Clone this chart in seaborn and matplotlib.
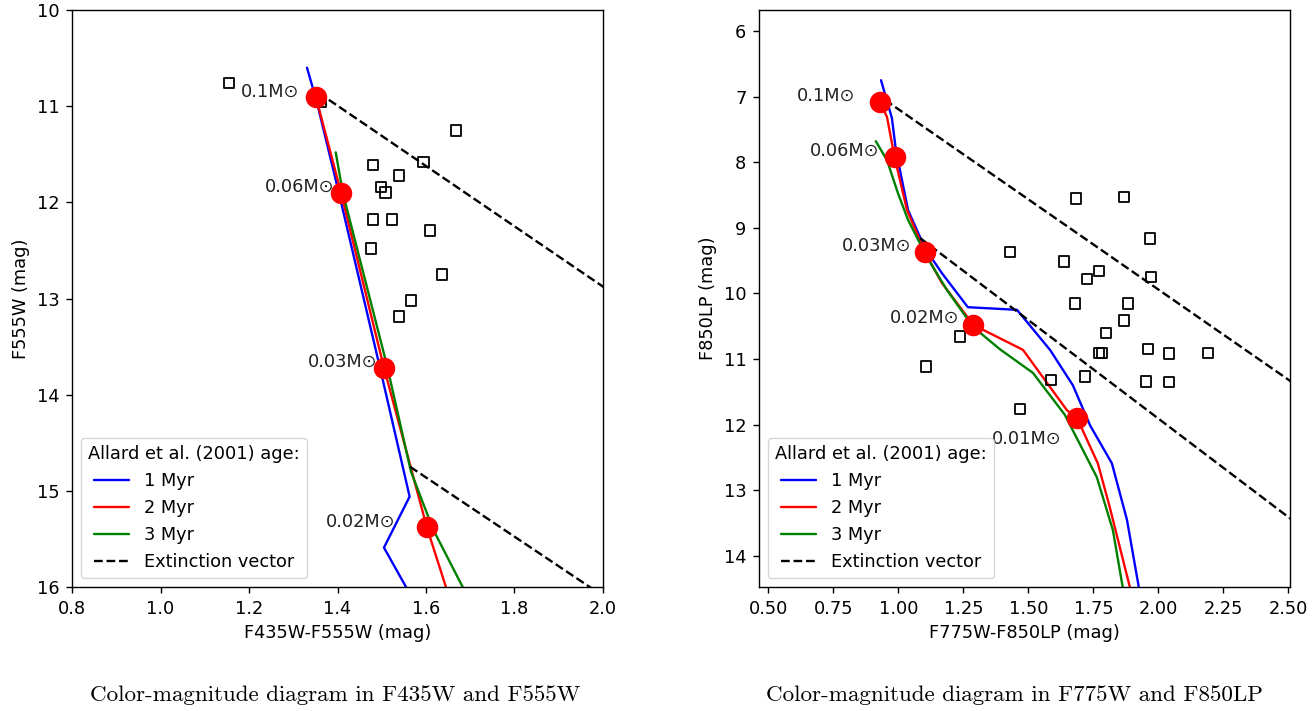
import matplotlib
matplotlib.use("Agg")
import matplotlib.pyplot as plt
import seaborn as sns

# ---------------- F435W / F555W panel ----------------
b_iso1_color = [1.331, 1.353, 1.403, 1.496, 1.563, 1.505, 1.567]
b_iso1_mag = [10.60, 10.95, 11.90, 13.72, 15.06, 15.59, 16.10]
b_iso2_color = [1.351, 1.408, 1.505, 1.602, 1.652]
b_iso2_mag = [10.90, 11.90, 13.72, 15.38, 16.10]
b_iso3_color = [1.396, 1.412, 1.512, 1.566, 1.616, 1.694]
b_iso3_mag = [11.48, 11.90, 13.70, 14.80, 15.40, 16.10]

b_mass_labels = ["0.1M\u2299", "0.06M\u2299", "0.03M\u2299", "0.02M\u2299"]
b_mass_color = [1.351, 1.408, 1.505, 1.602]
b_mass_mag = [10.90, 11.90, 13.72, 15.38]
b_label_x = [1.313, 1.392, 1.489, 1.530]
b_label_y = [10.85, 11.84, 13.66, 15.32]

b_ext_x0 = [1.357, 1.564]
b_ext_y0 = [10.86, 14.75]
b_ext_x1 = [2.100, 2.100]
b_ext_y1 = [13.19, 16.40]

b_star_color = [1.155, 1.363, 1.668, 1.480, 1.595, 1.539, 1.498, 1.509,
                1.480, 1.523, 1.609, 1.476, 1.636, 1.566, 1.539]
b_star_mag = [10.76, 10.95, 11.25, 11.61, 11.58, 11.72, 11.84, 11.90,
              12.18, 12.18, 12.29, 12.48, 12.75, 13.02, 13.19]

# ---------------- F775W / F850LP panel ----------------
i_iso1_color = [0.933, 0.975, 0.990, 1.037, 1.102, 1.167, 1.267, 1.456,
                1.583, 1.671, 1.737, 1.821, 1.879, 1.930]
i_iso1_mag = [6.75, 7.33, 7.81, 8.73, 9.31, 9.69, 10.21, 10.25,
              10.86, 11.40, 12.01, 12.59, 13.45, 14.60]
i_iso2_color = [0.929, 0.956, 0.985, 1.033, 1.102, 1.167, 1.288, 1.479,
                1.648, 1.687, 1.767, 1.813, 1.898]
i_iso2_mag = [7.08, 7.31, 7.92, 8.73, 9.37, 9.84, 10.48, 10.86,
              11.78, 11.90, 12.59, 13.26, 14.60]
i_iso3_color = [0.913, 0.956, 0.998, 1.037, 1.110, 1.187, 1.287, 1.390,
                1.517, 1.640, 1.763, 1.825, 1.868]
i_iso3_mag = [7.68, 7.97, 8.47, 8.88, 9.45, 9.95, 10.51, 10.85,
              11.21, 11.85, 12.80, 13.61, 14.60]

i_mass_labels = ["0.1M\u2299", "0.06M\u2299", "0.03M\u2299", "0.02M\u2299", "0.01M\u2299"]
i_mass_color = [0.929, 0.985, 1.102, 1.288, 1.687]
i_mass_mag = [7.08, 7.92, 9.37, 10.48, 11.90]
i_label_x = [0.833, 0.925, 1.048, 1.233, 1.629]
i_label_y = [6.99, 7.83, 9.28, 10.37, 12.22]

i_ext_x0 = [0.948, 1.083]
i_ext_y0 = [7.05, 9.155]
i_ext_x1 = [2.600, 2.600]
i_ext_y1 = [11.59, 13.71]

i_star_color = [1.683, 1.867, 1.967, 1.429, 1.637, 1.771, 1.725, 1.971,
                1.679, 1.883, 1.867, 1.798, 1.771, 1.783, 1.960, 2.040,
                2.190, 1.237, 1.106, 1.587, 1.717, 1.952, 2.040, 1.467]
i_star_mag = [8.55, 8.53, 9.16, 9.37, 9.51, 9.66, 9.78, 9.75,
              10.15, 10.15, 10.41, 10.60, 10.91, 10.91, 10.85, 10.92,
              10.91, 10.66, 11.11, 11.32, 11.27, 11.34, 11.35, 11.76]

ages = ["1 Myr", "2 Myr", "3 Myr"]
age_colors = ["blue", "red", "green"]

FS = 12.8
sns.set_theme(style="ticks", rc={
    "axes.edgecolor": "black",
    "axes.linewidth": 1.0,
    "xtick.color": "black",
    "ytick.color": "black",
    "xtick.direction": "out",
    "ytick.direction": "out",
    "xtick.major.size": 4.5,
    "ytick.major.size": 4.5,
    "xtick.major.width": 1.0,
    "ytick.major.width": 1.0,
    "xtick.major.pad": 4.5,
    "ytick.major.pad": 4.5,
    "font.size": FS,
    "axes.labelsize": FS,
    "xtick.labelsize": FS,
    "ytick.labelsize": FS,
    "legend.fontsize": FS,
    "legend.title_fontsize": FS,
    "axes.labelpad": 5.0,
    "axes.labelcolor": "black",
    "text.color": "black",
})
plt.rcParams["font.family"] = ["DejaVu Sans"]

fig = plt.figure(figsize=(13.14, 7.11), dpi=100)
ax1 = fig.add_axes([0.0548, 0.1744, 0.4041, 0.8115])
ax2 = fig.add_axes([0.5776, 0.1744, 0.4041, 0.8115])

LW = 1.7


def draw_panel(ax, isos, mass_c, mass_m, labels, lab_x, lab_y,
               ext, star_c, star_m):
    for (cx, my), age, col in zip(isos, ages, age_colors):
        sns.lineplot(x=cx, y=my, sort=False, estimator=None, color=col,
                     lw=LW, label=age, ax=ax)
    x0s, y0s, x1s, y1s = ext
    for k, (x0, y0, x1, y1) in enumerate(zip(x0s, y0s, x1s, y1s)):
        sns.lineplot(x=[x0, x1], y=[y0, y1], sort=False, estimator=None,
                     color="black", lw=LW, dashes=False, ax=ax,
                     label="Extinction vector" if k == 0 else None)
        ax.lines[-1].set_linestyle((0, (3.7, 1.6)))
    sns.scatterplot(x=star_c, y=star_m, marker="s", s=58,
                    facecolor="none", edgecolor="black", linewidth=1.3,
                    ax=ax, zorder=3)
    sns.scatterplot(x=mass_c, y=mass_m, marker="o", s=240, color="red",
                    linewidth=0, ax=ax, zorder=4)
    for t, x, y in zip(labels, lab_x, lab_y):
        ax.text(x, y, t, ha="right", va="center", fontsize=FS,
                color="#222222")
    ax.legend(title="Allard et al. (2001) age:", loc="lower left",
              handlelength=2.0, frameon=True, fancybox=True,
              framealpha=0.8, edgecolor="0.8")


draw_panel(ax1,
           [(b_iso1_color, b_iso1_mag), (b_iso2_color, b_iso2_mag),
            (b_iso3_color, b_iso3_mag)],
           b_mass_color, b_mass_mag, b_mass_labels, b_label_x, b_label_y,
           (b_ext_x0, b_ext_y0, b_ext_x1, b_ext_y1),
           b_star_color, b_star_mag)
ax1.set_xlim(0.8, 2.0)
ax1.set_ylim(16, 10)
ax1.set_xticks([0.8, 1.0, 1.2, 1.4, 1.6, 1.8, 2.0])
ax1.set_xticklabels(["0.8", "1.0", "1.2", "1.4", "1.6", "1.8", "2.0"])
ax1.set_yticks([10, 11, 12, 13, 14, 15, 16])
ax1.set_xlabel("F435W-F555W (mag)")
ax1.set_ylabel("F555W (mag)")

draw_panel(ax2,
           [(i_iso1_color, i_iso1_mag), (i_iso2_color, i_iso2_mag),
            (i_iso3_color, i_iso3_mag)],
           i_mass_color, i_mass_mag, i_mass_labels, i_label_x, i_label_y,
           (i_ext_x0, i_ext_y0, i_ext_x1, i_ext_y1),
           i_star_color, i_star_mag)
ax2.set_xlim(0.4635, 2.506)
ax2.set_ylim(14.475, 5.68)
ax2.set_xticks([0.5, 0.75, 1.0, 1.25, 1.5, 1.75, 2.0, 2.25, 2.5])
ax2.set_xticklabels(["0.50", "0.75", "1.00", "1.25", "1.50", "1.75",
                     "2.00", "2.25", "2.50"])
ax2.set_yticks(list(range(6, 15)))
ax2.set_xlabel("F775W-F850LP (mag)")
ax2.set_ylabel("F850LP (mag)")

for ax in (ax1, ax2):
    for side in ("top", "right", "left", "bottom"):
        ax.spines[side].set_visible(True)
        ax.spines[side].set_color("black")

cap_font = dict(family=["cmr10", "DejaVu Serif"], fontsize=16.6,
                ha="center", va="center", color="black")
fig.text(0.255, 0.0225, "Color-magnitude diagram in F435W and F555W",
         **cap_font)
fig.text(0.772, 0.0225, "Color-magnitude diagram in F775W and F850LP",
         **cap_font)

fig.savefig("out.png", dpi=100)
